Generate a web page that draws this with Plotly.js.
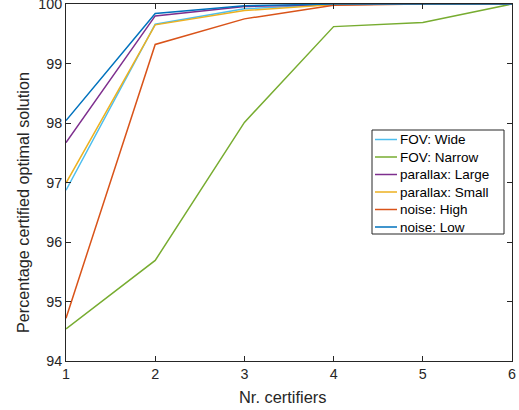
<!DOCTYPE html>
<html>
<head>
<meta charset="utf-8">
<script src="https://cdn.plot.ly/plotly-3.0.1.min.js"></script>
<style>html,body{margin:0;padding:0;background:#fff;}#chart{width:519px;height:410px;}</style>
</head>
<body>
<div id="chart"></div>
<script>
const certifiers = [1, 2, 3, 4, 5, 6];
const seriesNames = ["FOV: Wide", "FOV: Narrow", "parallax: Large", "parallax: Small", "noise: High", "noise: Low"];
const fovWide = [96.87, 99.66, 99.92, 99.99, 100, 100];
const fovNarrow = [94.54, 95.69, 98.01, 99.62, 99.69, 100];
const parallaxLarge = [97.67, 99.80, 99.96, 99.99, 100, 100];
const parallaxSmall = [96.99, 99.65, 99.89, 99.99, 100, 100];
const noiseHigh = [94.72, 99.32, 99.75, 99.98, 100, 100];
const noiseLow = [98.04, 99.84, 99.97, 100, 100, 100];
const colors = ["#4DBEEE", "#77AC30", "#7E2F8E", "#EDB120", "#D95319", "#0072BD"];
const seriesValues = [fovWide, fovNarrow, parallaxLarge, parallaxSmall, noiseHigh, noiseLow];
const xTitle = "Nr. certifiers";
const yTitle = "Percentage certified optimal solution";

const FONT = "Liberation Sans, Arial, Helvetica, sans-serif";
const traces = seriesValues.map((vals, i) => ({
  x: certifiers, y: vals, name: seriesNames[i], type: "scatter", mode: "lines",
  line: {color: colors[i], width: 1.5}, showlegend: false
}));

// plot area in pixels
const W = 519, H = 410, L = 66, R = 512, T = 4, B = 361;
const px = v => (v - L) / (R - L);
const py = v => (B - v) / (B - T);

// MATLAB-style legend box
const shapes = [{type: "rect", xref: "paper", yref: "paper",
  x0: px(372), x1: px(504), y0: py(234), y1: py(130),
  line: {color: "#262626", width: 1}, fillcolor: "#fff", layer: "above"}];
const annotations = [];
seriesNames.forEach((name, i) => {
  const yc = 139.5 + i * 17.5;
  shapes.push({type: "line", xref: "paper", yref: "paper",
    x0: px(375), x1: px(397), y0: py(yc), y1: py(yc),
    line: {color: colors[i], width: 1.5}, layer: "above"});
  annotations.push({xref: "paper", yref: "paper", x: px(398), y: py(yc),
    xanchor: "left", yanchor: "middle", text: name, showarrow: false,
    font: {family: FONT, size: 13.5, color: "#000"}});
});
// axis titles (placed as in the reference)
annotations.push({xref: "paper", yref: "paper", x: px(282.5), y: py(397),
  xanchor: "center", yanchor: "middle", text: xTitle, showarrow: false,
  font: {family: FONT, size: 16.4, color: "#262626"}});
annotations.push({xref: "paper", yref: "paper", x: px(23), y: py(203),
  xanchor: "center", yanchor: "middle", text: yTitle, showarrow: false, textangle: -90,
  font: {family: FONT, size: 16.2, color: "#262626"}});

const axisCommon = {
  showline: true, mirror: "ticks", linecolor: "#262626", linewidth: 1,
  ticks: "inside", ticklen: 5, tickcolor: "#262626", showgrid: false, zeroline: false,
  ticklabeloverflow: "allow",
  tickfont: {family: FONT, size: 14.3, color: "#262626"}
};

const layout = {
  width: W, height: H,
  margin: {l: L, r: W - R, t: T, b: H - B},
  paper_bgcolor: "#fff", plot_bgcolor: "#fff",
  font: {family: FONT, color: "#262626"},
  xaxis: Object.assign({}, axisCommon, {range: [1, 6], tickvals: [1,2,3,4,5,6]}),
  yaxis: Object.assign({}, axisCommon, {range: [94, 100], tickvals: [94,95,96,97,98,99,100]}),
  shapes: shapes,
  annotations: annotations,
  showlegend: false
};

Plotly.newPlot("chart", traces, layout, {staticPlot: true, displayModeBar: false});
</script>
</body>
</html>
